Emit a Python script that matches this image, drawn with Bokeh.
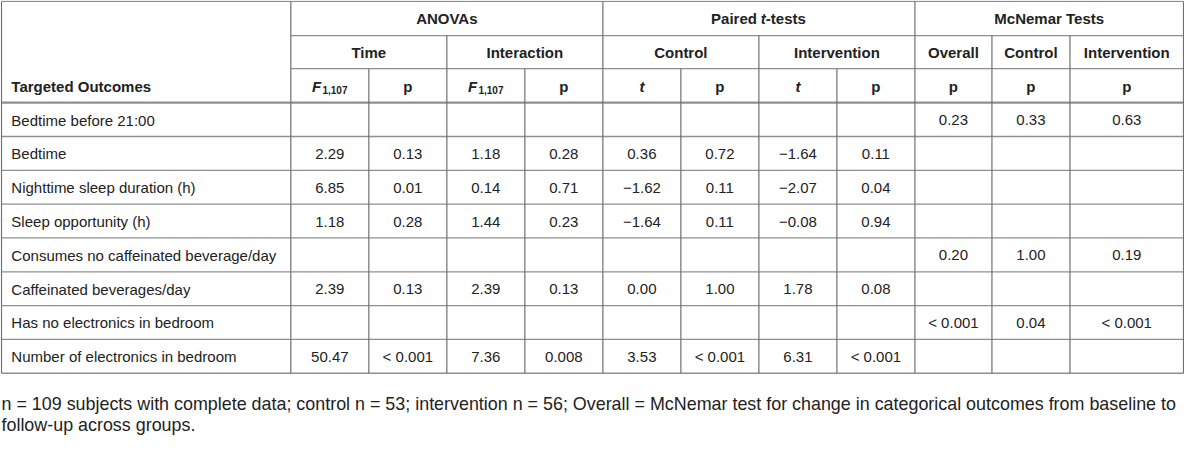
from bokeh.plotting import figure
from bokeh.models import ColumnDataSource, Range1d
from bokeh.core.properties import value
from bokeh.embed import file_html
from bokeh.resources import INLINE

# ---------------- data ----------------
outcomes = ["Bedtime before 21:00", "Bedtime", "Nighttime sleep duration (h)",
            "Sleep opportunity (h)", "Consumes no caffeinated beverage/day",
            "Caffeinated beverages/day", "Has no electronics in bedroom",
            "Number of electronics in bedroom"]
time_F = ["", "2.29", "6.85", "1.18", "", "2.39", "", "50.47"]
time_p = ["", "0.13", "0.01", "0.28", "", "0.13", "", "< 0.001"]
inter_F = ["", "1.18", "0.14", "1.44", "", "2.39", "", "7.36"]
inter_p = ["", "0.28", "0.71", "0.23", "", "0.13", "", "0.008"]
ctrl_t = ["", "0.36", "\u22121.62", "\u22121.64", "", "0.00", "", "3.53"]
ctrl_p = ["", "0.72", "0.11", "0.11", "", "1.00", "", "< 0.001"]
intv_t = ["", "\u22121.64", "\u22122.07", "\u22120.08", "", "1.78", "", "6.31"]
intv_p = ["", "0.11", "0.04", "0.94", "", "0.08", "", "< 0.001"]
mcn_overall = ["0.23", "", "", "", "0.20", "", "< 0.001", ""]
mcn_control = ["0.33", "", "", "", "1.00", "", "0.04", ""]
mcn_interv = ["0.63", "", "", "", "0.19", "", "< 0.001", ""]

group_headers = ["ANOVAs", "Paired t-tests", "McNemar Tests"]
sub_headers = ["Time", "Interaction", "Control", "Intervention",
               "Overall", "Control", "Intervention"]
stub_header = "Targeted Outcomes"
footnote = ["n = 109 subjects with complete data; control n = 53; intervention n = 56; "
            "Overall = McNemar test for change in categorical outcomes from baseline to",
            "follow-up across groups."]

# ---------------- layout ----------------
FONT = "Liberation Sans"
FS = 15
TXT = "#222222"
HLINE = "#8f8f8f"
VLINE = "#707070"

xb = [1, 294, 373, 452, 531, 610, 689, 768, 847, 926, 1004, 1083, 1198]
y_top, y_h1, y_h2, y_h3 = 1, 36, 70, 105
row_h = 34.75
n = len(outcomes)
y_bot = y_h3 + n * row_h

p = figure(width=1184, height=436, output_backend="svg", toolbar_location=None,
           x_range=Range1d(0, 1199), y_range=Range1d(448, 0),
           min_border=0, outline_line_color=None)
p.axis.visible = False
p.grid.visible = False
p.background_fill_color = "white"

# ---------------- grid lines ----------------
hx0, hx1, hy = [], [], []
hx0 += [xb[0], xb[1], xb[1]]; hx1 += [xb[-1], xb[-1], xb[-1]]; hy += [y_top, y_h1, y_h2]
for k in range(1, n + 1):
    hx0.append(xb[0]); hx1.append(xb[-1]); hy.append(y_h3 + k * row_h)
p.segment(x0=hx0, y0=hy, x1=hx1, y1=hy, line_color=HLINE, line_width=1.3)
p.segment(x0=[xb[0]], y0=[y_h3], x1=[xb[-1]], y1=[y_h3], line_color=HLINE, line_width=2.3)

vx, vy0 = [], []
for i, x in enumerate(xb):
    if i in (0, 1, 5, 9, 12):
        start = y_top
    elif i in (3, 7, 10, 11):
        start = y_h1
    else:
        start = y_h2
    vx.append(x); vy0.append(start)
p.segment(x0=vx, y0=vy0, x1=vx, y1=[y_bot] * len(vx), line_color=VLINE, line_width=1.2)

# ---------------- header text ----------------
def txt(x, y, s, style="normal", size=FS, align="center", baseline="middle"):
    p.text(x=x, y=y, text=s, text_font=value(FONT), text_font_size=f"{size}px",
           text_font_style=style, text_color=TXT, text_align=align,
           text_baseline=baseline)

yc1, yc2, yc3 = (y_top + y_h1) / 2 + 0.5, (y_h1 + y_h2) / 2 + 0.5, (y_h2 + y_h3) / 2 + 0.5
txt([(xb[1] + xb[5]) / 2, (xb[9] + xb[12]) / 2], [yc1, yc1],
    [group_headers[0], group_headers[2]], style="bold")
# Paired t-tests with italic t
pc = (xb[5] + xb[9]) / 2
txt([pc - 2], [yc1], ["Paired"], style="bold", align="right")
txt([pc + 2], [yc1], ["t"], style="bold italic", align="left")
txt([pc + 7], [yc1], ["-tests"], style="bold", align="left")

sub_x = [(xb[1] + xb[3]) / 2, (xb[3] + xb[5]) / 2, (xb[5] + xb[7]) / 2,
         (xb[7] + xb[9]) / 2, (xb[9] + xb[10]) / 2, (xb[10] + xb[11]) / 2,
         (xb[11] + xb[12]) / 2]
txt(sub_x, [yc2] * len(sub_x), sub_headers, style="bold")

cx = [(xb[i] + xb[i + 1]) / 2 for i in range(1, 12)]
# F subscript headers
for c in (cx[0], cx[2]):
    txt([c - 18], [yc3], ["F"], style="bold italic", align="left")
    txt([c - 7.5], [yc3 + 4], ["1,107"], style="bold", size=10, align="left")
for c in (cx[4], cx[6]):
    txt([c], [yc3], ["t"], style="bold italic")
for c in (cx[1], cx[3], cx[5], cx[7], cx[8], cx[9], cx[10]):
    txt([c], [yc3], ["p"], style="bold")
txt([11], [yc3], [stub_header], style="bold", align="left")

# ---------------- body ----------------
row_y = [y_h3 + (k + 0.5) * row_h + 0.5 for k in range(n)]
txt([11] * n, row_y, outcomes, align="left")
cols = [time_F, time_p, inter_F, inter_p, ctrl_t, ctrl_p, intv_t, intv_p,
        mcn_overall, mcn_control, mcn_interv]
for c, col in zip(cx, cols):
    src = ColumnDataSource(dict(x=[c] * n, y=row_y, t=col))
    p.text(x="x", y="y", text="t", source=src, text_font=value(FONT),
           text_font_size=f"{FS}px", text_color=TXT, text_align="center",
           text_baseline="middle")

# ---------------- footnote ----------------
txt([1, 1], [415, 436.5], footnote, size=17.9, align="left")

open("out.html", "w").write(file_html(p, INLINE))
